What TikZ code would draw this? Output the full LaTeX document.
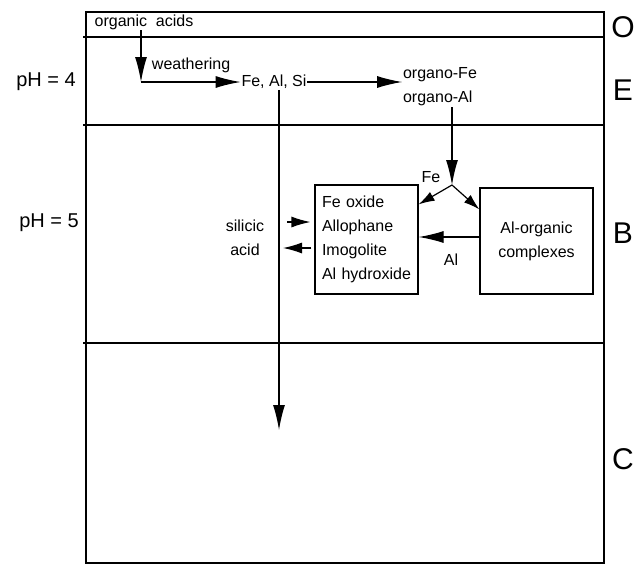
\documentclass[tikz,border=0pt]{standalone}
\usepackage{fontspec}
\setmainfont{Liberation Sans}
\usetikzlibrary{arrows.meta}

\begin{document}
\begin{tikzpicture}[x=1pt,y=1pt,yscale=-1,
  txt/.style={inner sep=0.75pt,font=\fontsize{16}{24}\selectfont},
  horizon/.style={inner sep=0pt,font=\fontsize{30}{36}\selectfont},
  phlabel/.style={inner sep=0pt,font=\fontsize{20}{24}\selectfont},
  arr/.style={line width=1.2pt,-{Latex[length=25pt,width=12pt]}},
  shortarr/.style={line width=1.2pt,-{Latex[length=16pt,width=10pt]}},
  siarr/.style={line width=1.2pt,-{Latex[length=19pt,width=11pt]}},
  layer/.style={line width=1.2pt}]
\useasboundingbox (0,0) rectangle (638,565);

%Profile frame and horizon limits
\draw [layer] (86,12) rectangle (604,563) ;
\draw [layer] (83,37) -- (604,37) ;
\draw [layer] (83,125) -- (604,125) ;
\draw [layer] (83,343) -- (604,343) ;

% Horizon letters
\node [horizon] (hO) at (623,27) {O};
\node [horizon] (hE) at (623,90) {E};
\node [horizon] (hB) at (623,233) {B};
\node [horizon] (hC) at (623,459) {C};

% pH marks
\node [phlabel] (ph4) at (46,82) {pH = 4};
\node [phlabel] (ph5) at (49,223) {pH = 5};

% Text Nodes
\node [txt] (acids) at (144,22) {organic\ \ acids};
\node [txt,anchor=west] (weath) at (151,65) {weathering};
\node [txt] (fealsi) at (274,82) {Fe, Al, Si};
\node [txt,align=left] (organo) at (440,87) {organo-Fe\\organo-Al};
\node [txt,align=center] (silicic) at (245,238) {silicic\\acid};
\node [txt] (lblfe) at (431,177) {Fe};
\node [txt] (lblal) at (451,260) {Al};

% Boxes
\node [txt,draw,line width=1.2pt,align=left,text width=89pt,inner sep=7pt,
  minimum height=109pt] (oxbox) at (366.5,239.5)
  {Fe oxide\\Allophane\\Imogolite\\Al hydroxide};
\node [txt,draw,line width=1.2pt,align=center,minimum width=113pt,
  minimum height=106pt] (alorg) at (536.5,241) {Al-organic\\complexes};

% Free ends
\coordinate (bend) at (141,82);
\coordinate (junc) at (452,185);
\coordinate (deep) at (279,430);
\coordinate (sain) at (287,222);
\coordinate (saout) at (283,248);

% Connectors
\draw [arr] (acids.south -| bend) -- (bend) ;
\draw [arr] (bend) -- (fealsi.west) ;
\draw [arr] (fealsi.east) -- (organo.west |- fealsi.east) ;
\draw [arr] (fealsi.south -| deep) -- (deep) ;
\draw [arr] (organo.south -| junc) -- (junc) ;
\draw [shortarr] (junc) -- ([yshift=20pt]oxbox.north east) ;
\draw [shortarr] (junc) -- ([yshift=22pt]alorg.north west) ;
\draw [arr] ([yshift=-4pt]alorg.west) -- ([yshift=-4pt]alorg.west -| oxbox.east) ;
\draw [siarr] (sain) -- ([xshift=-4pt]oxbox.west |- sain) ;
\draw [siarr] ([xshift=-3pt]oxbox.west |- saout) -- (saout) ;

\end{tikzpicture}
\end{document}
